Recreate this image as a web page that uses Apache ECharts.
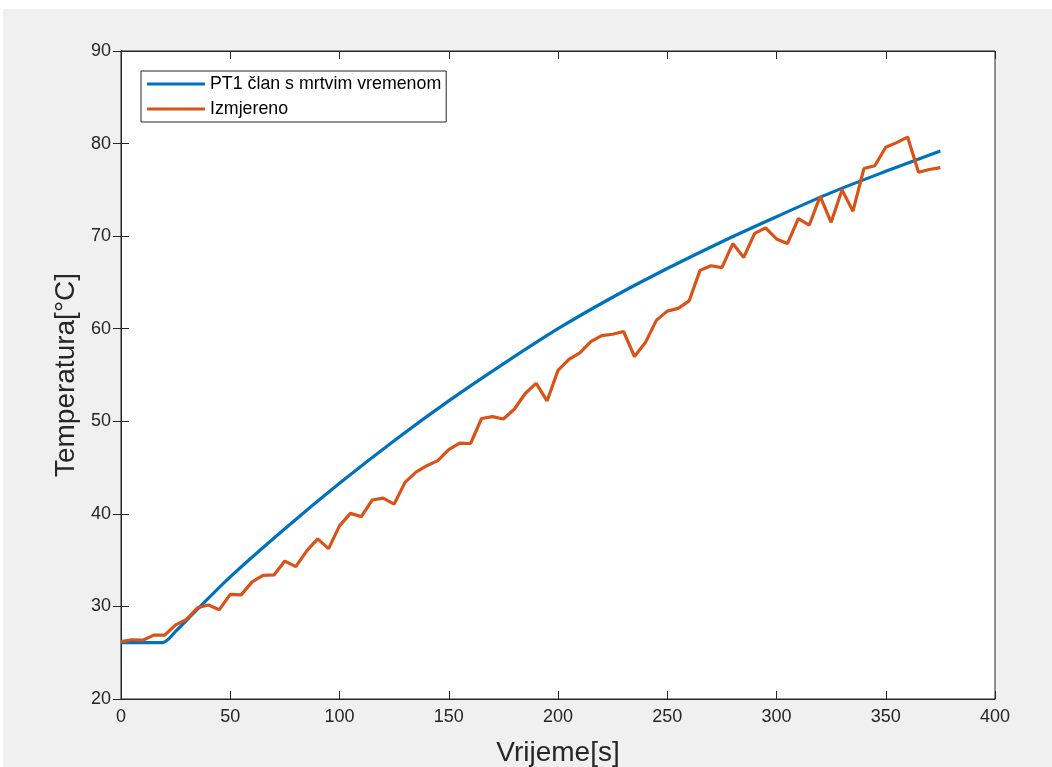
<!DOCTYPE html>
<html>
<head>
<meta charset="utf-8">
<script src="https://cdn.jsdelivr.net/npm/echarts@6/dist/echarts.min.js"></script>
<style>
html,body{margin:0;padding:0;background:#fff;width:1052px;height:767px;overflow:hidden;}
#chart{position:absolute;left:3px;top:9px;width:1049px;height:758px;background:#f0f0f0;}
</style>
</head>
<body>
<div id="chart"></div>
<script>
const modelTime = [0, 19, 25, 35, 50, 75, 100, 125, 150, 175, 200, 225, 250, 275, 300, 325, 350, 375];
const modelTemp = [26.1, 26.1, 27.3, 29.7, 33.2, 38.4, 43.3, 47.9, 52.2, 56.2, 60.0, 63.4, 66.5, 69.4, 72.1, 74.7, 77.0, 79.2];

const measTime = [0,5,10,15,20,25,30,35,40,45,50,55,60,65,70,75,80,85,90,95,
  100,105,110,115,120,125,130,135,140,145,150,155,160,165,170,175,180,185,190,195,
  200,205,210,215,220,225,230,235,240,245,250,255,260,265,270,275,280,285,290,295,
  300,305,310,315,320,325,330,335,340,345,350,355,360,365,370,375];
const measTemp = [26.2,26.4,26.35,26.9,26.9,28.0,28.6,29.85,30.15,29.65,31.3,31.25,32.65,33.35,33.4,34.9,34.3,36.0,37.3,36.25,
  38.7,40.05,39.7,41.5,41.7,41.05,43.4,44.5,45.2,45.75,46.95,47.65,47.6,50.3,50.5,50.25,51.3,53.0,54.1,52.2,
  55.5,56.7,57.4,58.6,59.25,59.4,59.7,57.0,58.5,60.9,61.9,62.2,63.0,66.3,66.8,66.6,69.2,67.7,70.3,70.9,
  69.7,69.2,71.9,71.2,74.3,71.5,75.0,72.7,77.3,77.6,79.6,80.1,80.7,76.9,77.2,77.4];

const seriesNames = ['PT1 član s mrtvim vremenom', 'Izmjereno'];
const xTitle = 'Vrijeme[s]';
const yTitle = 'Temperatura[°C]';

const chart = echarts.init(document.getElementById('chart'));
const axisCol = '#262626';
const font = 'Liberation Sans, Arial, sans-serif';
const tick = {show:true, inside:true, length:8, lineStyle:{color:axisCol, width:1}};

chart.setOption({
  animation:false,
  backgroundColor:'#f0f0f0',
  grid:{left:118, top:42, width:874, height:648, show:true, backgroundColor:'#fff', borderColor:axisCol, borderWidth:1,
        containLabel:false, outerBoundsMode:'none'},
  legend:{
    data:seriesNames.map(n=>({name:n, icon:'rect'})),
    orient:'vertical', left:138, top:62,
    itemWidth:58, itemHeight:3, itemGap:7,
    padding:[4,5,4,6],
    backgroundColor:'#fff', borderColor:axisCol, borderWidth:1,
    textStyle:{fontFamily:font, fontSize:17.8, color:'#000'}
  },
  xAxis:[
    {type:'value', min:0, max:400, interval:50, position:'bottom',
     name:xTitle, nameLocation:'middle', nameGap:40,
     nameTextStyle:{fontFamily:font, fontSize:28, color:axisCol},
     axisLine:{show:true, lineStyle:{color:axisCol}}, axisTick:tick,
     axisLabel:{fontFamily:font, fontSize:18, color:axisCol, margin:9},
     splitLine:{show:false}},
    {type:'value', min:0, max:400, interval:50, position:'top',
     axisLine:{show:true, lineStyle:{color:axisCol}}, axisTick:tick,
     axisLabel:{show:false}, splitLine:{show:false}}
  ],
  yAxis:[
    {type:'value', min:20, max:90, interval:10, position:'left',
     name:yTitle, nameLocation:'middle', nameGap:36, nameRotate:90,
     nameTextStyle:{fontFamily:font, fontSize:28, color:axisCol},
     axisLine:{show:true, lineStyle:{color:axisCol}}, axisTick:tick,
     axisLabel:{fontFamily:font, fontSize:18, color:axisCol, margin:10},
     splitLine:{show:false}},
    {type:'value', min:20, max:90, interval:10, position:'right',
     axisLine:{show:true, lineStyle:{color:axisCol}}, axisTick:tick,
     axisLabel:{show:false}, splitLine:{show:false}}
  ],
  series:[
    {name:seriesNames[0], type:'line', xAxisIndex:0, yAxisIndex:0,
     data:modelTime.map((t,i)=>[t, modelTemp[i]]),
     showSymbol:false, smooth:0.3, color:'#0072BD',
     lineStyle:{width:3.2, color:'#0072BD'}},
    {name:seriesNames[1], type:'line', xAxisIndex:0, yAxisIndex:0,
     data:measTime.map((t,i)=>[t, measTemp[i]]),
     showSymbol:false, color:'#D95319',
     lineStyle:{width:3.2, color:'#D95319'}}
  ]
});
</script>
</body>
</html>
